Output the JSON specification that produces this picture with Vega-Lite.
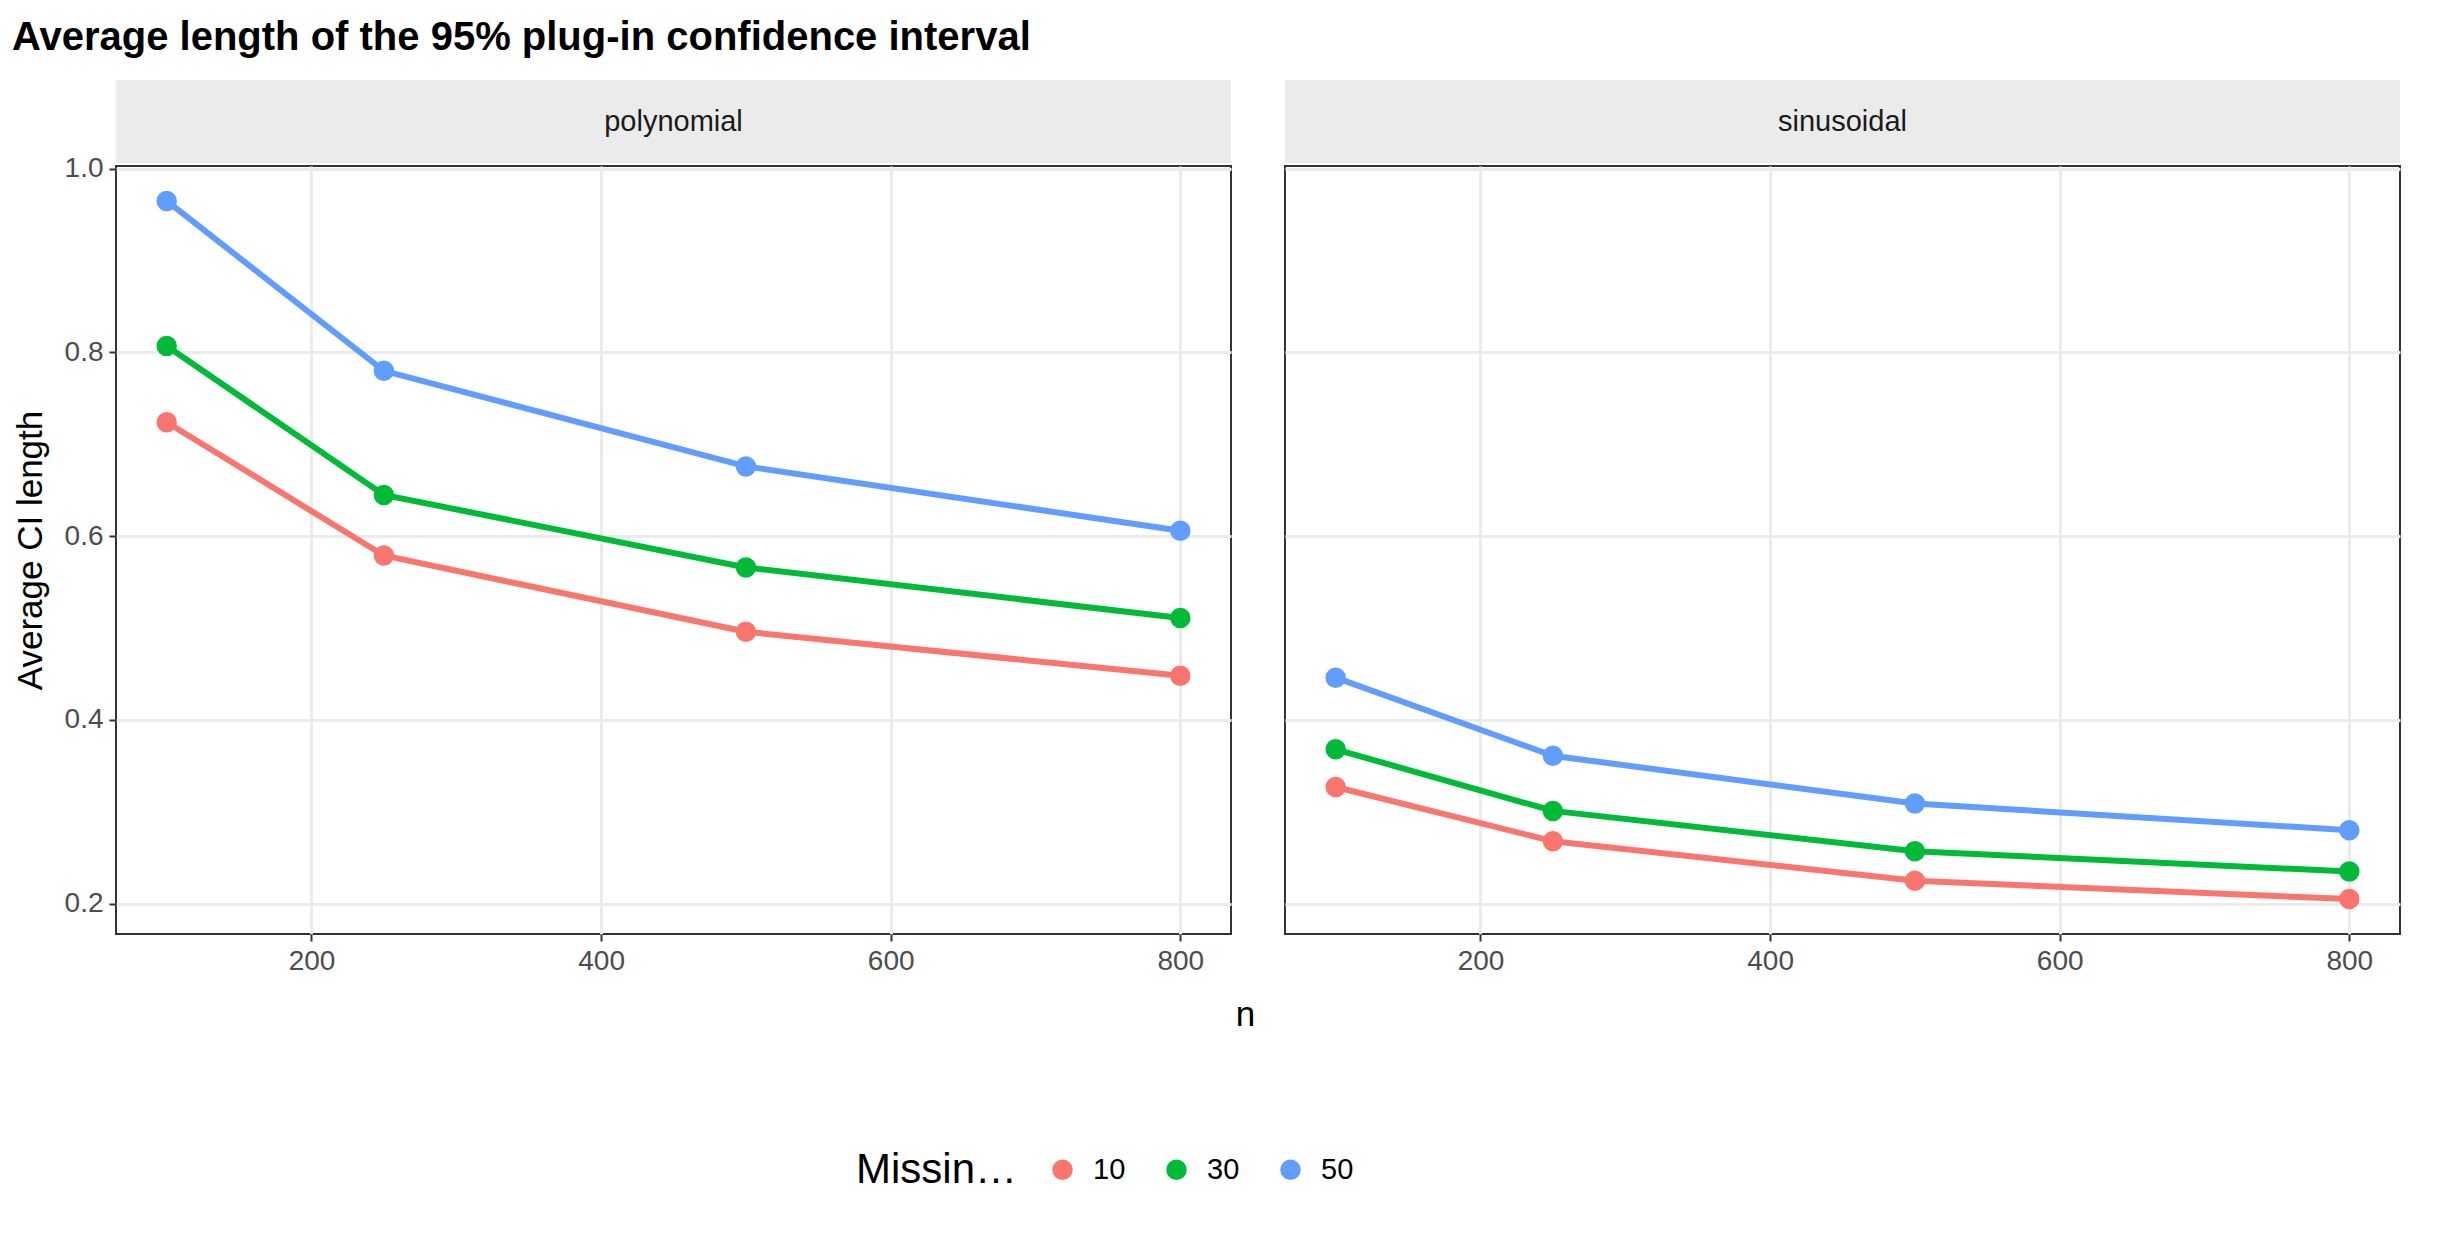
{
  "$schema": "https://vega.github.io/schema/vega-lite/v6.json",
  "title": {"text": "Average length of the 95% plug-in confidence interval", "anchor": "start", "fontSize": 40, "fontWeight": "bold", "font": "Liberation Sans", "color": "black", "offset": 22},
  "background": "white",
  "padding": {"left": 12, "top": 18, "right": 10, "bottom": 10},
  "data": {"values": [
    {"fn": "polynomial", "missing": "10", "n": 100, "len": 0.724},
    {"fn": "polynomial", "missing": "10", "n": 250, "len": 0.579},
    {"fn": "polynomial", "missing": "10", "n": 500, "len": 0.496},
    {"fn": "polynomial", "missing": "10", "n": 800, "len": 0.448},
    {"fn": "polynomial", "missing": "30", "n": 100, "len": 0.807},
    {"fn": "polynomial", "missing": "30", "n": 250, "len": 0.645},
    {"fn": "polynomial", "missing": "30", "n": 500, "len": 0.566},
    {"fn": "polynomial", "missing": "30", "n": 800, "len": 0.511},
    {"fn": "polynomial", "missing": "50", "n": 100, "len": 0.965},
    {"fn": "polynomial", "missing": "50", "n": 250, "len": 0.780},
    {"fn": "polynomial", "missing": "50", "n": 500, "len": 0.676},
    {"fn": "polynomial", "missing": "50", "n": 800, "len": 0.606},
    {"fn": "sinusoidal", "missing": "10", "n": 100, "len": 0.327},
    {"fn": "sinusoidal", "missing": "10", "n": 250, "len": 0.268},
    {"fn": "sinusoidal", "missing": "10", "n": 500, "len": 0.225},
    {"fn": "sinusoidal", "missing": "10", "n": 800, "len": 0.205},
    {"fn": "sinusoidal", "missing": "30", "n": 100, "len": 0.368},
    {"fn": "sinusoidal", "missing": "30", "n": 250, "len": 0.301},
    {"fn": "sinusoidal", "missing": "30", "n": 500, "len": 0.257},
    {"fn": "sinusoidal", "missing": "30", "n": 800, "len": 0.235},
    {"fn": "sinusoidal", "missing": "50", "n": 100, "len": 0.446},
    {"fn": "sinusoidal", "missing": "50", "n": 250, "len": 0.361},
    {"fn": "sinusoidal", "missing": "50", "n": 500, "len": 0.309},
    {"fn": "sinusoidal", "missing": "50", "n": 800, "len": 0.280}
  ]},
  "spacing": 28,
  "hconcat": [
    {
      "spacing": 3,
      "bounds": "flush",
      "vconcat": [
        {
          "data": {"values": [{"label": "polynomial"}]},
          "width": 1115, "height": 83,
          "view": {"fill": "#ebebeb", "stroke": null},
          "mark": {"type": "text", "fontSize": 29, "font": "Liberation Sans", "color": "#1a1a1a"},
          "encoding": {"text": {"field": "label"}}
        },
        {
          "width": 1115, "height": 768,
          "transform": [{"filter": "datum.fn == 'polynomial'"}],
          "encoding": {
            "x": {"field": "n", "type": "quantitative", "scale": {"domain": [65, 835], "nice": false, "zero": false},
              "axis": {"values": [200, 400, 600, 800], "title": "n", "titleX": 1129, "titleAlign": "center", "titleFontSize": 35, "titleFontWeight": "normal", "titlePadding": 22}},
            "y": {"field": "len", "type": "quantitative", "scale": {"domain": [0.167, 1.003], "nice": false, "zero": false},
              "axis": {"values": [0.2, 0.4, 0.6, 0.8, 1.0], "format": ".1f", "title": "Average CI length", "titleFontSize": 35, "titleFontWeight": "normal", "titlePadding": 16}},
            "color": {"field": "missing", "type": "nominal", "scale": {"domain": ["10", "30", "50"], "range": ["#F8766D", "#00BA38", "#619CFF"]}, "title": "Missing (%)"}
          },
          "layer": [
            {"mark": {"type": "line", "strokeWidth": 6}},
            {"mark": {"type": "point", "filled": true, "size": 420, "opacity": 1}}
          ]
        }
      ]
    },
    {
      "spacing": 3,
      "bounds": "flush",
      "vconcat": [
        {
          "data": {"values": [{"label": "sinusoidal"}]},
          "width": 1115, "height": 83,
          "view": {"fill": "#ebebeb", "stroke": null},
          "mark": {"type": "text", "fontSize": 29, "font": "Liberation Sans", "color": "#1a1a1a"},
          "encoding": {"text": {"field": "label"}}
        },
        {
          "width": 1115, "height": 768,
          "transform": [{"filter": "datum.fn == 'sinusoidal'"}],
          "encoding": {
            "x": {"field": "n", "type": "quantitative", "scale": {"domain": [65, 835], "nice": false, "zero": false},
              "axis": {"values": [200, 400, 600, 800], "title": null}},
            "y": {"field": "len", "type": "quantitative", "scale": {"domain": [0.167, 1.003], "nice": false, "zero": false},
              "axis": {"values": [0.2, 0.4, 0.6, 0.8, 1.0], "labels": false, "ticks": false, "title": null}},
            "color": {"field": "missing", "type": "nominal", "scale": {"domain": ["10", "30", "50"], "range": ["#F8766D", "#00BA38", "#619CFF"]}, "title": "Missing (%)"}
          },
          "layer": [
            {"mark": {"type": "line", "strokeWidth": 6}},
            {"mark": {"type": "point", "filled": true, "size": 420, "opacity": 1}}
          ]
        }
      ]
    }
  ],
  "config": {
    "font": "Liberation Sans",
    "view": {"stroke": "#333333", "strokeWidth": 2},
    "axis": {"grid": true, "gridColor": "#ebebeb", "gridWidth": 3, "domain": false, "tickColor": "#333333", "tickSize": 7, "tickWidth": 2,
      "labelFontSize": 28, "labelColor": "#4d4d4d", "labelFont": "Liberation Sans", "titleFont": "Liberation Sans", "titleColor": "black", "labelPadding": 6},
    "legend": {"orient": "none", "legendX": 740, "legendY": 1075, "direction": "horizontal", "titleOrient": "left", "titleFontSize": 42, "titleFontWeight": "normal", "titleColor": "black",
      "labelFontSize": 29, "labelColor": "black", "symbolType": "circle", "symbolSize": 420, "symbolStrokeWidth": 0, "columnPadding": 36, "labelOffset": 16, "titlePadding": 30}
  }
}
